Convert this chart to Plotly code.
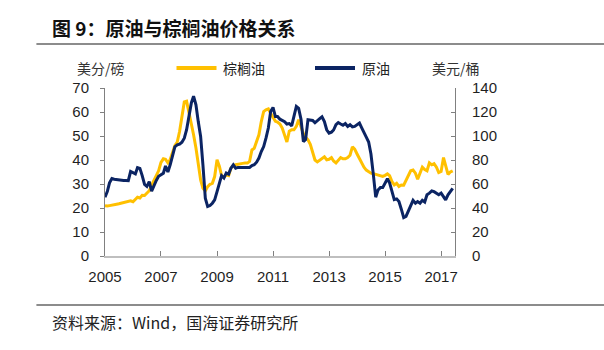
import pandas as pd
import plotly.graph_objects as go

# Monthly observations, Jan 2005 onward
start_month = "2005-01-01"

palm_oil_cents_per_lb = [
    21.0, 20.8, 21.0, 21.3, 21.5, 21.6, 21.8, 22.0, 22.1, 22.3,
    22.6, 23.0, 22.6, 23.5, 24.5, 24.2, 25.3, 25.2, 26.2, 27.2,
    29.5, 31.5, 33.5, 35.5, 39.0, 40.5, 40.3, 38.8, 40.2, 43.0,
    46.0, 47.5, 52.0, 58.0, 64.2, 64.5, 60.0, 56.0, 50.5, 45.0,
    38.0, 31.7, 28.2, 27.1, 28.9, 29.9, 30.3, 33.1, 40.1, 37.3,
    33.5, 32.7, 33.8, 33.5, 36.6, 37.7, 38.0, 38.3, 38.4, 38.6,
    38.7, 38.7, 39.4, 44.2, 44.9, 47.4, 50.5, 56.0, 60.2, 60.9,
    61.3, 59.5, 57.5, 56.1, 55.8, 55.0, 53.3, 50.0, 47.5, 52.0,
    52.6, 52.6, 54.0, 56.8, 54.0, 51.0, 49.5, 48.4, 46.5, 43.5,
    40.0, 39.2, 39.8, 40.5, 41.3, 40.1, 40.3, 41.0, 39.6, 38.8,
    40.0, 41.0, 40.5, 40.5, 41.0, 42.0, 45.5, 44.5, 42.5, 40.5,
    38.5, 37.0, 35.8, 35.0, 34.5, 34.3, 34.0, 34.0, 33.7, 33.2,
    33.6, 34.2, 33.5, 31.0, 29.6, 30.3, 29.0, 29.6, 29.5, 31.5,
    33.6, 35.5, 35.8, 34.5, 32.0, 34.5, 37.0, 36.0, 35.5, 38.8,
    38.0, 38.5, 37.0, 34.8, 35.2, 41.0, 37.5, 34.0, 35.0, 35.5,
]

crude_oil_usd_per_bbl = [
    49, 54, 61, 64.6, 64, 63.6, 63.4, 63.2, 63, 63,
    62.8, 70.4, 69.6, 68.4, 73.6, 73, 67, 59.6, 58, 62,
    54, 59, 63, 66.4, 68, 69, 75, 70, 76, 83,
    91, 92.6, 93.2, 94.8, 98.2, 105.2, 115, 127.6, 133.2, 126,
    112, 99.6, 76, 48.2, 41.2, 42, 44, 46.8, 53.6, 61.4,
    67, 65, 69.2, 68.2, 73.2, 76, 73.2, 73.8, 73.8, 74,
    74.4, 74, 73.8, 75.4, 76, 78.2, 81.6, 87, 91.2, 98.2,
    106.6, 120.4, 123.8, 116.2, 116.2, 114, 113, 112, 110, 110.4,
    108.4, 117.6, 124.6, 123, 114, 95.4, 97, 113.6, 113.6, 113,
    111, 113, 114.4, 116, 112, 105.2, 102.4, 103.2, 105, 109.4,
    111.2, 110, 109, 110.4, 108, 109.4, 107.6, 108, 109.4, 110.8,
    107, 102.4, 99, 95, 85, 68, 49, 55, 57, 57,
    61, 64.4, 61, 54, 47, 47.6, 45.4, 39, 32, 33,
    37.6, 43, 46.4, 44, 45.4, 44, 46.4, 45, 51, 52.4,
    54.2, 53.6, 52.4, 51, 52.4, 49.6, 46.8, 51, 53.6, 56.4,
]

tick_years = ["2005", "2007", "2009", "2011", "2013", "2015", "2017"]
series_names = ["棕榈油", "原油"]
left_unit = "美分/磅"
right_unit = "美元/桶"
title_text = "图 9：原油与棕榈油价格关系"
source_text = "资料来源：Wind，国海证券研究所"

dates = pd.date_range(start_month, periods=len(palm_oil_cents_per_lb), freq="MS")

ORANGE = "#FFC000"
NAVY = "#0B2463"
TXT = "#1f1f1f"
CJK = "Noto Sans CJK SC"
LAT = "Liberation Sans, Arial, sans-serif"

fig = go.Figure()
fig.add_trace(go.Scatter(x=dates, y=palm_oil_cents_per_lb, name=series_names[0],
                         mode="lines", line=dict(color=ORANGE, width=3), yaxis="y"))
fig.add_trace(go.Scatter(x=dates, y=crude_oil_usd_per_bbl, name=series_names[1],
                         mode="lines", line=dict(color=NAVY, width=3), yaxis="y2"))

fig.update_layout(
    width=604, height=350,
    margin=dict(l=105, r=149, t=88, b=94),
    paper_bgcolor="white", plot_bgcolor="white",
    showlegend=False,
    xaxis=dict(
        type="date",
        range=["2005-01-01", "2017-07-01"],
        tickvals=[f"{y}-01-01" for y in tick_years],
        ticktext=tick_years,
        showgrid=False, zeroline=False,
        showline=True, linecolor="#BFBFBF", linewidth=2,
        ticks="inside", ticklen=5, tickcolor="#808080", tickwidth=1,
        tickfont=dict(family=LAT, size=15, color=TXT),
        ticklabelstandoff=6,
    ),
    yaxis=dict(
        range=[0, 70], dtick=10,
        showgrid=False, zeroline=False,
        showline=True, linecolor="#808080", linewidth=1,
        ticks="outside", ticklen=4, tickcolor="#808080",
        tickfont=dict(family=LAT, size=15, color=TXT),
        ticklabelstandoff=8,
    ),
    yaxis2=dict(
        range=[0, 140], dtick=20, overlaying="y", side="right",
        showgrid=False, zeroline=False,
        showline=True, linecolor="#808080", linewidth=1,
        ticks="inside", ticklen=4, tickcolor="#808080",
        tickfont=dict(family=LAT, size=15, color=TXT),
        ticklabelstandoff=13,
    ),
)

# header / footer rules
fig.add_shape(type="line", xref="paper", yref="paper", x0=-0.196, x1=1.43,
              y0=(350 - 94 - 44) / 168, y1=(350 - 94 - 44) / 168,
              line=dict(color="#8C8C8C", width=2))
fig.add_shape(type="line", xref="paper", yref="paper", x0=-0.196, x1=1.43,
              y0=(350 - 94 - 305) / 168, y1=(350 - 94 - 305) / 168,
              line=dict(color="#8C8C8C", width=2))

def px_x(x):
    return (x - 105) / 350

def px_y(y):
    return (256 - y) / 168

# title
fig.add_annotation(text=f"<b>{title_text}</b>", xref="paper", yref="paper",
                   x=px_x(50), y=px_y(28), xanchor="left", yanchor="middle",
                   showarrow=False, font=dict(family=CJK, size=19, color="#111"))
# source
fig.add_annotation(text=source_text, xref="paper", yref="paper",
                   x=px_x(50), y=px_y(322), xanchor="left", yanchor="middle",
                   showarrow=False, font=dict(family=CJK, size=16, color="#222"))
# units
fig.add_annotation(text=left_unit, xref="paper", yref="paper",
                   x=px_x(101), y=px_y(68), xanchor="center", yanchor="middle",
                   showarrow=False, font=dict(family=CJK, size=14, color="#333"))
fig.add_annotation(text=right_unit, xref="paper", yref="paper",
                   x=px_x(456), y=px_y(68), xanchor="center", yanchor="middle",
                   showarrow=False, font=dict(family=CJK, size=14, color="#333"))

# legend (manual)
for (x0, x1, tx, name, col) in [(176.5, 216.5, 221, series_names[0], ORANGE),
                                (315, 355, 360, series_names[1], NAVY)]:
    fig.add_shape(type="line", xref="paper", yref="paper",
                  x0=px_x(x0), x1=px_x(x1), y0=px_y(68), y1=px_y(68),
                  line=dict(color=col, width=4))
    fig.add_annotation(text=name, xref="paper", yref="paper",
                       x=px_x(tx), y=px_y(68), xanchor="left", yanchor="middle",
                       showarrow=False, font=dict(family=CJK, size=14, color="#222"))

fig.write_html("out.html")
